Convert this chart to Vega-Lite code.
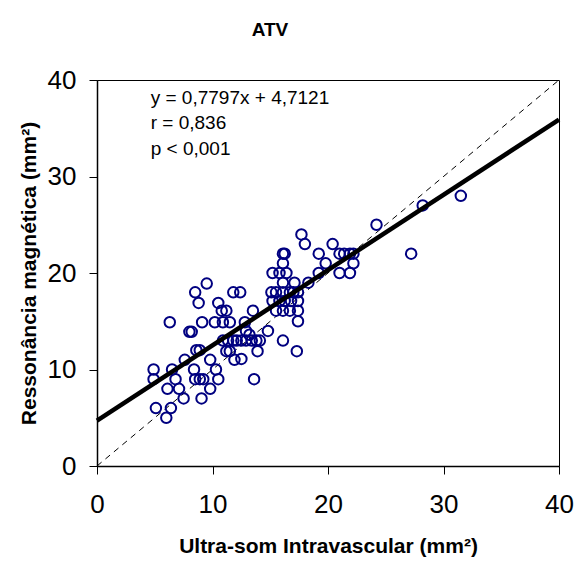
{
  "$schema": "https://vega.github.io/schema/vega-lite/v6.json",
  "width": 462,
  "height": 386,
  "autosize": "none",
  "padding": {"left": 97, "top": 80, "right": 18, "bottom": 95},
  "background": "white",
  "config": {
    "font": "Liberation Sans",
    "view": {"stroke": "black", "strokeWidth": 1},
    "axis": {
      "grid": false,
      "domainColor": "black",
      "domainWidth": 1.5,
      "tickColor": "black",
      "tickSize": 8,
      "labelColor": "black",
      "titleColor": "black",
      "labelFont": "Liberation Sans",
      "titleFont": "Liberation Sans",
      "labelFontSize": 26,
      "titleFontSize": 21,
      "titleFontWeight": "bold",
      "labelFlush": false
    }
  },
  "title": {
    "text": "ATV",
    "font": "Liberation Sans",
    "fontSize": 19,
    "fontWeight": "bold",
    "color": "black",
    "anchor": "middle",
    "frame": "group",
    "dx": -58,
    "offset": 27
  },
  "datasets": {
    "points": [
      {"ivus": 9.5, "mr": 18.9}, {"ivus": 8.5, "mr": 18.0}, {"ivus": 8.8, "mr": 16.9}, {"ivus": 10.5, "mr": 16.9},
      {"ivus": 11.8, "mr": 18.0}, {"ivus": 12.4, "mr": 18.0}, {"ivus": 6.3, "mr": 14.9}, {"ivus": 8.0, "mr": 13.9},
      {"ivus": 8.2, "mr": 13.9}, {"ivus": 9.1, "mr": 14.9}, {"ivus": 10.2, "mr": 14.9}, {"ivus": 10.9, "mr": 14.9},
      {"ivus": 11.5, "mr": 14.9}, {"ivus": 10.8, "mr": 16.1}, {"ivus": 11.2, "mr": 16.1}, {"ivus": 12.8, "mr": 14.9},
      {"ivus": 8.6, "mr": 12.0}, {"ivus": 8.9, "mr": 12.0}, {"ivus": 7.6, "mr": 11.0}, {"ivus": 4.9, "mr": 10.0},
      {"ivus": 4.9, "mr": 9.0}, {"ivus": 6.5, "mr": 10.0}, {"ivus": 6.8, "mr": 9.0}, {"ivus": 8.4, "mr": 10.0},
      {"ivus": 8.5, "mr": 9.0}, {"ivus": 8.9, "mr": 9.0}, {"ivus": 9.2, "mr": 9.0}, {"ivus": 9.8, "mr": 11.0},
      {"ivus": 10.3, "mr": 10.0}, {"ivus": 10.5, "mr": 9.0}, {"ivus": 6.1, "mr": 8.0}, {"ivus": 7.1, "mr": 8.0},
      {"ivus": 9.8, "mr": 8.0}, {"ivus": 7.5, "mr": 7.0}, {"ivus": 9.05, "mr": 7.0}, {"ivus": 5.1, "mr": 6.0},
      {"ivus": 6.4, "mr": 6.0}, {"ivus": 6.0, "mr": 5.0}, {"ivus": 11.2, "mr": 11.9}, {"ivus": 11.5, "mr": 11.9},
      {"ivus": 10.9, "mr": 13.0}, {"ivus": 11.35, "mr": 13.0}, {"ivus": 11.8, "mr": 13.0}, {"ivus": 12.1, "mr": 13.0},
      {"ivus": 11.9, "mr": 11.0}, {"ivus": 13.6, "mr": 9.0},
      {"ivus": 24.2, "mr": 25.0}, {"ivus": 17.7, "mr": 24.0}, {"ivus": 18.0, "mr": 23.0}, {"ivus": 20.4, "mr": 23.0},
      {"ivus": 16.1, "mr": 22.0}, {"ivus": 16.25, "mr": 22.0}, {"ivus": 19.2, "mr": 22.0}, {"ivus": 21.0, "mr": 22.0},
      {"ivus": 21.4, "mr": 22.0}, {"ivus": 21.9, "mr": 22.0}, {"ivus": 22.2, "mr": 22.0}, {"ivus": 19.8, "mr": 21.0},
      {"ivus": 16.1, "mr": 21.0}, {"ivus": 22.2, "mr": 21.0}, {"ivus": 15.2, "mr": 20.0}, {"ivus": 15.8, "mr": 20.0},
      {"ivus": 16.4, "mr": 20.0}, {"ivus": 19.2, "mr": 20.0}, {"ivus": 21.0, "mr": 20.0}, {"ivus": 21.9, "mr": 20.0},
      {"ivus": 17.1, "mr": 19.0}, {"ivus": 18.3, "mr": 19.0}, {"ivus": 16.1, "mr": 19.0}, {"ivus": 15.1, "mr": 18.0},
      {"ivus": 15.5, "mr": 18.0}, {"ivus": 16.1, "mr": 18.0}, {"ivus": 16.7, "mr": 18.0}, {"ivus": 17.0, "mr": 18.0},
      {"ivus": 17.4, "mr": 18.0}, {"ivus": 15.2, "mr": 17.1}, {"ivus": 15.8, "mr": 17.1}, {"ivus": 16.25, "mr": 17.1},
      {"ivus": 16.8, "mr": 17.1}, {"ivus": 17.4, "mr": 17.1}, {"ivus": 13.5, "mr": 16.1}, {"ivus": 15.5, "mr": 16.1},
      {"ivus": 16.1, "mr": 16.1}, {"ivus": 16.7, "mr": 16.1}, {"ivus": 17.4, "mr": 16.1}, {"ivus": 17.4, "mr": 15.0},
      {"ivus": 14.8, "mr": 14.0}, {"ivus": 12.9, "mr": 14.0}, {"ivus": 13.2, "mr": 13.6}, {"ivus": 12.5, "mr": 13.0},
      {"ivus": 12.9, "mr": 13.0}, {"ivus": 13.4, "mr": 13.0}, {"ivus": 13.8, "mr": 13.0}, {"ivus": 14.1, "mr": 13.0},
      {"ivus": 13.9, "mr": 11.9}, {"ivus": 16.1, "mr": 13.0}, {"ivus": 17.3, "mr": 11.9}, {"ivus": 12.5, "mr": 11.1},
      {"ivus": 31.5, "mr": 28.0}, {"ivus": 28.2, "mr": 27.0}, {"ivus": 27.2, "mr": 22.0}
    ],
    "identity": [{"ivus": 0, "mr": 0}, {"ivus": 40, "mr": 40}],
    "fit": [{"ivus": 0, "mr": 4.7121}, {"ivus": 40, "mr": 35.9001}],
    "notes": [
      {"ivus": 4.65, "mr": 38.1, "label": "y = 0,7797x + 4,7121"},
      {"ivus": 4.65, "mr": 35.5, "label": "r = 0,836"},
      {"ivus": 4.65, "mr": 32.9, "label": "p < 0,001"}
    ]
  },
  "encoding": {
    "x": {
      "field": "ivus",
      "type": "quantitative",
      "scale": {"domain": [0, 40], "nice": false},
      "axis": {"values": [0, 10, 20, 30, 40], "title": "Ultra-som Intravascular (mm²)", "labelPadding": 17, "titlePadding": 18}
    },
    "y": {
      "field": "mr",
      "type": "quantitative",
      "scale": {"domain": [0, 40], "nice": false},
      "axis": {"values": [0, 10, 20, 30, 40], "title": "Ressonância magnética (mm²)", "labelPadding": 13, "titlePadding": 8}
    }
  },
  "layer": [
    {
      "data": {"name": "identity"},
      "mark": {"type": "line", "color": "black", "strokeWidth": 1, "strokeDash": [6, 5]}
    },
    {
      "data": {"name": "points"},
      "mark": {"type": "point", "shape": "circle", "filled": false, "size": 110, "strokeWidth": 2, "color": "#000080", "opacity": 1}
    },
    {
      "data": {"name": "fit"},
      "mark": {"type": "line", "color": "black", "strokeWidth": 4.5}
    },
    {
      "data": {"name": "notes"},
      "mark": {"type": "text", "align": "left", "baseline": "middle", "fontSize": 19, "font": "Liberation Sans", "color": "black"},
      "encoding": {"text": {"field": "label"}}
    }
  ]
}
